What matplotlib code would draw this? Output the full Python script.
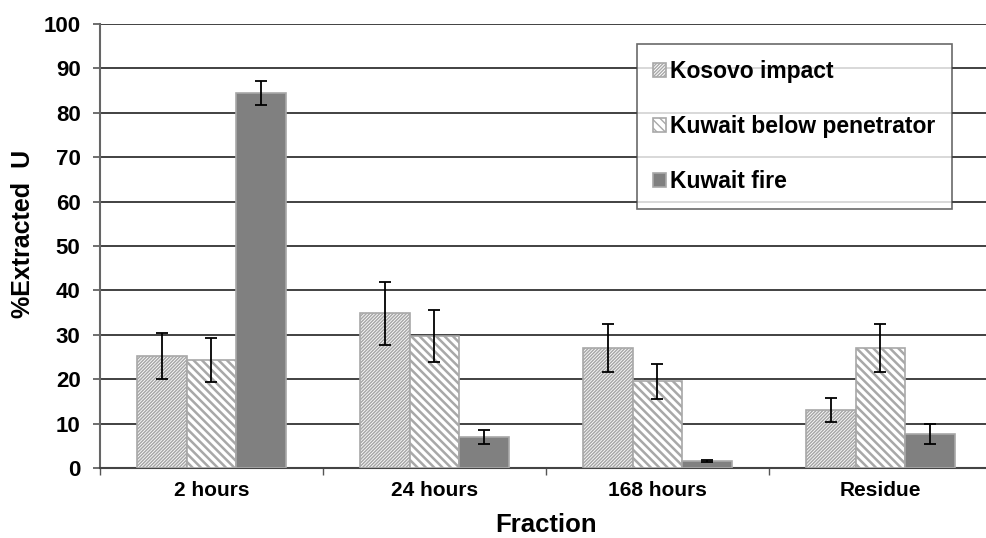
import numpy as np
import matplotlib
matplotlib.use('Agg')
import matplotlib.pyplot as plt

plt.rcParams['font.family'] = ['Liberation Sans', 'DejaVu Sans']
plt.rcParams['font.weight'] = 'bold'

# Extraction fractions and series
fractions = ['2 hours', '24 hours', '168 hours', 'Residue']
series = ['Kosovo impact', 'Kuwait below penetrator', 'Kuwait fire']

kosovo = [25.2, 34.8, 27.0, 13.0]
kosovo_err = [5.1, 7.0, 5.4, 2.7]
kuwait_pen = [24.3, 29.7, 19.5, 27.0]
kuwait_pen_err = [4.9, 5.9, 3.9, 5.4]
kuwait_fire = [84.5, 7.0, 1.6, 7.7]
kuwait_fire_err = [2.7, 1.5, 0.3, 2.2]

fig = plt.figure(figsize=(9.87, 5.38), dpi=100)
ax = fig.add_axes([100 / 987, (538 - 468) / 538, 892 / 987, 444 / 538])

x = np.arange(len(fractions))
w = 0.224
styles = [
    dict(facecolor='white', edgecolor='#a8a8a8', hatch='/' * 10),
    dict(facecolor='white', edgecolor='#a8a8a8', hatch='\\' * 4),
    dict(facecolor='#808080', edgecolor='#a8a8a8', hatch=None),
]
hatch_lw = [1.1, 1.8, 1.0]
values = [kosovo, kuwait_pen, kuwait_fire]
errors = [kosovo_err, kuwait_pen_err, kuwait_fire_err]

for i in range(3):
    plt.rcParams['hatch.linewidth'] = hatch_lw[i]
    ax.bar(x + (i - 1) * w, values[i], w, linewidth=1.2, label=series[i],
           zorder=3, **styles[i])
    ax.errorbar(x + (i - 1) * w, values[i], yerr=errors[i], fmt='none',
                ecolor='black', elinewidth=1.3, capsize=4, capthick=1.3,
                zorder=4)

ax.set_xlim(-0.5, 3.5)
ax.set_ylim(0, 100)
ax.set_yticks(np.arange(0, 101, 10))
ax.yaxis.grid(True, color='#333333', linewidth=1.3, zorder=0)
ax.set_axisbelow(True)

ax.set_xticks(x)
ax.set_xticklabels(fractions, fontsize=15, fontweight='bold')
ax.set_xticks(np.arange(-0.5, 4, 1), minor=True)
ax.tick_params(axis='x', which='major', length=0, pad=9)
ax.tick_params(axis='x', which='minor', length=5, width=1, color='#555555')
ax.tick_params(axis='y', labelsize=16, length=5, width=1.2, color='#555555', pad=9)
for lbl in ax.get_yticklabels():
    lbl.set_fontweight('bold')

for s in ['top', 'right']:
    ax.spines[s].set_visible(False)
ax.spines['left'].set_color('#666666')
ax.spines['left'].set_linewidth(1.5)
ax.spines['bottom'].set_color('#444444')
ax.spines['bottom'].set_linewidth(1.5)

ax.set_xlabel('Fraction', fontsize=18.5, fontweight='bold', labelpad=10)
ax.set_ylabel('%Extracted  U', fontsize=18, fontweight='bold')
ax.yaxis.set_label_coords(-0.073, 0.527)

leg = ax.legend(loc='upper left', bbox_to_anchor=(537 / 892, (468 - 44) / 444),
                fontsize=16.5, frameon=True, fancybox=False, borderpad=0.7,
                labelspacing=1.4, handlelength=0.55, handleheight=0.55,
                handletextpad=0.2, borderaxespad=0)
leg.get_frame().set_edgecolor('#444444')
leg.get_frame().set_linewidth(1.2)
for t in leg.get_texts():
    t.set_fontweight('bold')

fig.savefig('out.png', dpi=100)
